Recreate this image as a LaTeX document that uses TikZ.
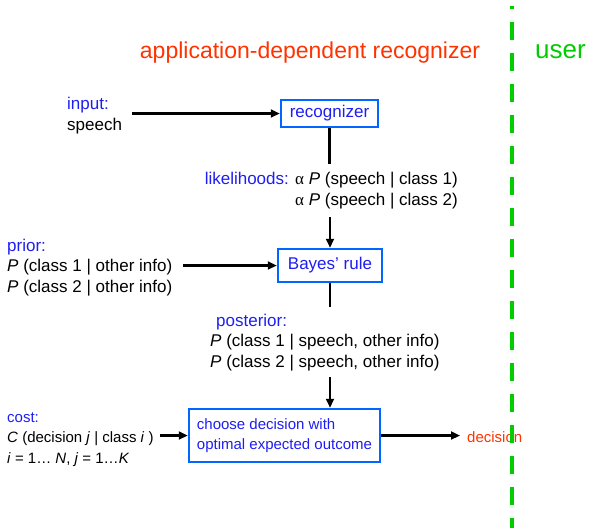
\documentclass[tikz,border=0pt]{standalone}
\usepackage{fontspec}
\setmainfont{Liberation Sans}
\newfontfamily\greekfont{Liberation Serif}
\usetikzlibrary{arrows.meta}
\definecolor{boxblue}{RGB}{0,102,255}
\definecolor{txtblue}{RGB}{30,30,240}
\definecolor{titlered}{RGB}{255,51,0}
\definecolor{usergreen}{RGB}{0,204,0}

\begin{document}
\begin{tikzpicture}[x=1pt,y=-1pt,
  every node/.style={inner sep=0pt, font=\fontsize{17}{20.5}\selectfont},
  block/.style={draw=boxblue, line width=2.5pt, text=txtblue, inner sep=0pt},
  small/.style={font=\fontsize{15}{20.5}\selectfont},
  flow/.style={line width=2.2pt, -{Triangle[length=9pt,width=8pt]}}]
\useasboundingbox (0,0) rectangle (606,528);

% Headings
\node[anchor=base, text=titlered, font=\fontsize{23}{28}\selectfont] (title) at (310,58) {application-dependent recognizer};
\node[anchor=base west, text=usergreen, font=\fontsize{26}{30}\selectfont] (user) at (535,58) {user};

% Recognizer
\node[block, minimum width=97pt, minimum height=27pt] (rec) at (329.5,113.5) {recognizer};
\node[anchor=base west, align=left] (input) at (67,130) {\textcolor{txtblue}{input:}\\speech};
\draw[flow] ([xshift=10pt]input.east |- rec.west) -- (rec.west);

% Likelihoods
\node[anchor=base east, align=right, inner ysep=8pt] (lik) at (458,205)
  {\textcolor{txtblue}{likelihoods:} {\greekfont α} \textit{P} (speech | class 1)\\
   {\greekfont α} \textit{P} (speech | class 2)};
\draw[line width=2.2pt] (rec.south) -- (rec.south |- lik.north);

% Bayes' rule
\node[block, minimum width=104pt, minimum height=33pt] (bayes) at (330,265.5) {Bayes’ rule};
\draw[flow] (bayes.north |- lik.south) -- (bayes.north);
\node[anchor=base west, align=left] (prior) at (7,292)
  {\textcolor{txtblue}{prior:}\\
   \textit{P} (class 1 | other info)\\
   \textit{P} (class 2 | other info)};
\draw[flow] ([xshift=11pt]prior.east |- bayes.west) -- (bayes.west);

% Posterior
\node[anchor=base west, align=left, inner ysep=6pt] (post) at (210,367)
  {\hspace*{6pt}\textcolor{txtblue}{posterior:}\\
   \textit{P} (class 1 | speech, other info)\\
   \textit{P} (class 2 | speech, other info)};
\draw[line width=2.2pt] (bayes.south) -- (bayes.south |- post.north);

% Decision
\node[block, small, align=left, minimum width=191pt, minimum height=53pt] (choose) at (284.5,435.5)
  {choose decision with\\optimal expected outcome};
\draw[flow] (bayes.south |- post.south) -- (bayes.south |- choose.north);
\node[small, anchor=base west, align=left] (cost) at (7,463)
  {\textcolor{txtblue}{cost:}\\
   \textit{C} (decision \textit{j} | class \textit{i} )\\
   \textit{i} = 1… \textit{N}, \textit{j} = 1…\textit{K}};
\draw[flow] ([xshift=6pt]cost.east |- choose.west) -- (choose.west);
\node[small, anchor=base west, text=titlered] (dec) at (467,442) {decision};
\draw[flow] (choose.east) -- ([xshift=-7pt]dec.west |- choose.east);

% Boundary to the user
\draw[usergreen, line width=4pt, dash pattern=on 18pt off 13pt, dash phase=15pt] (512,6) -- (512,528);
\end{tikzpicture}
\end{document}
